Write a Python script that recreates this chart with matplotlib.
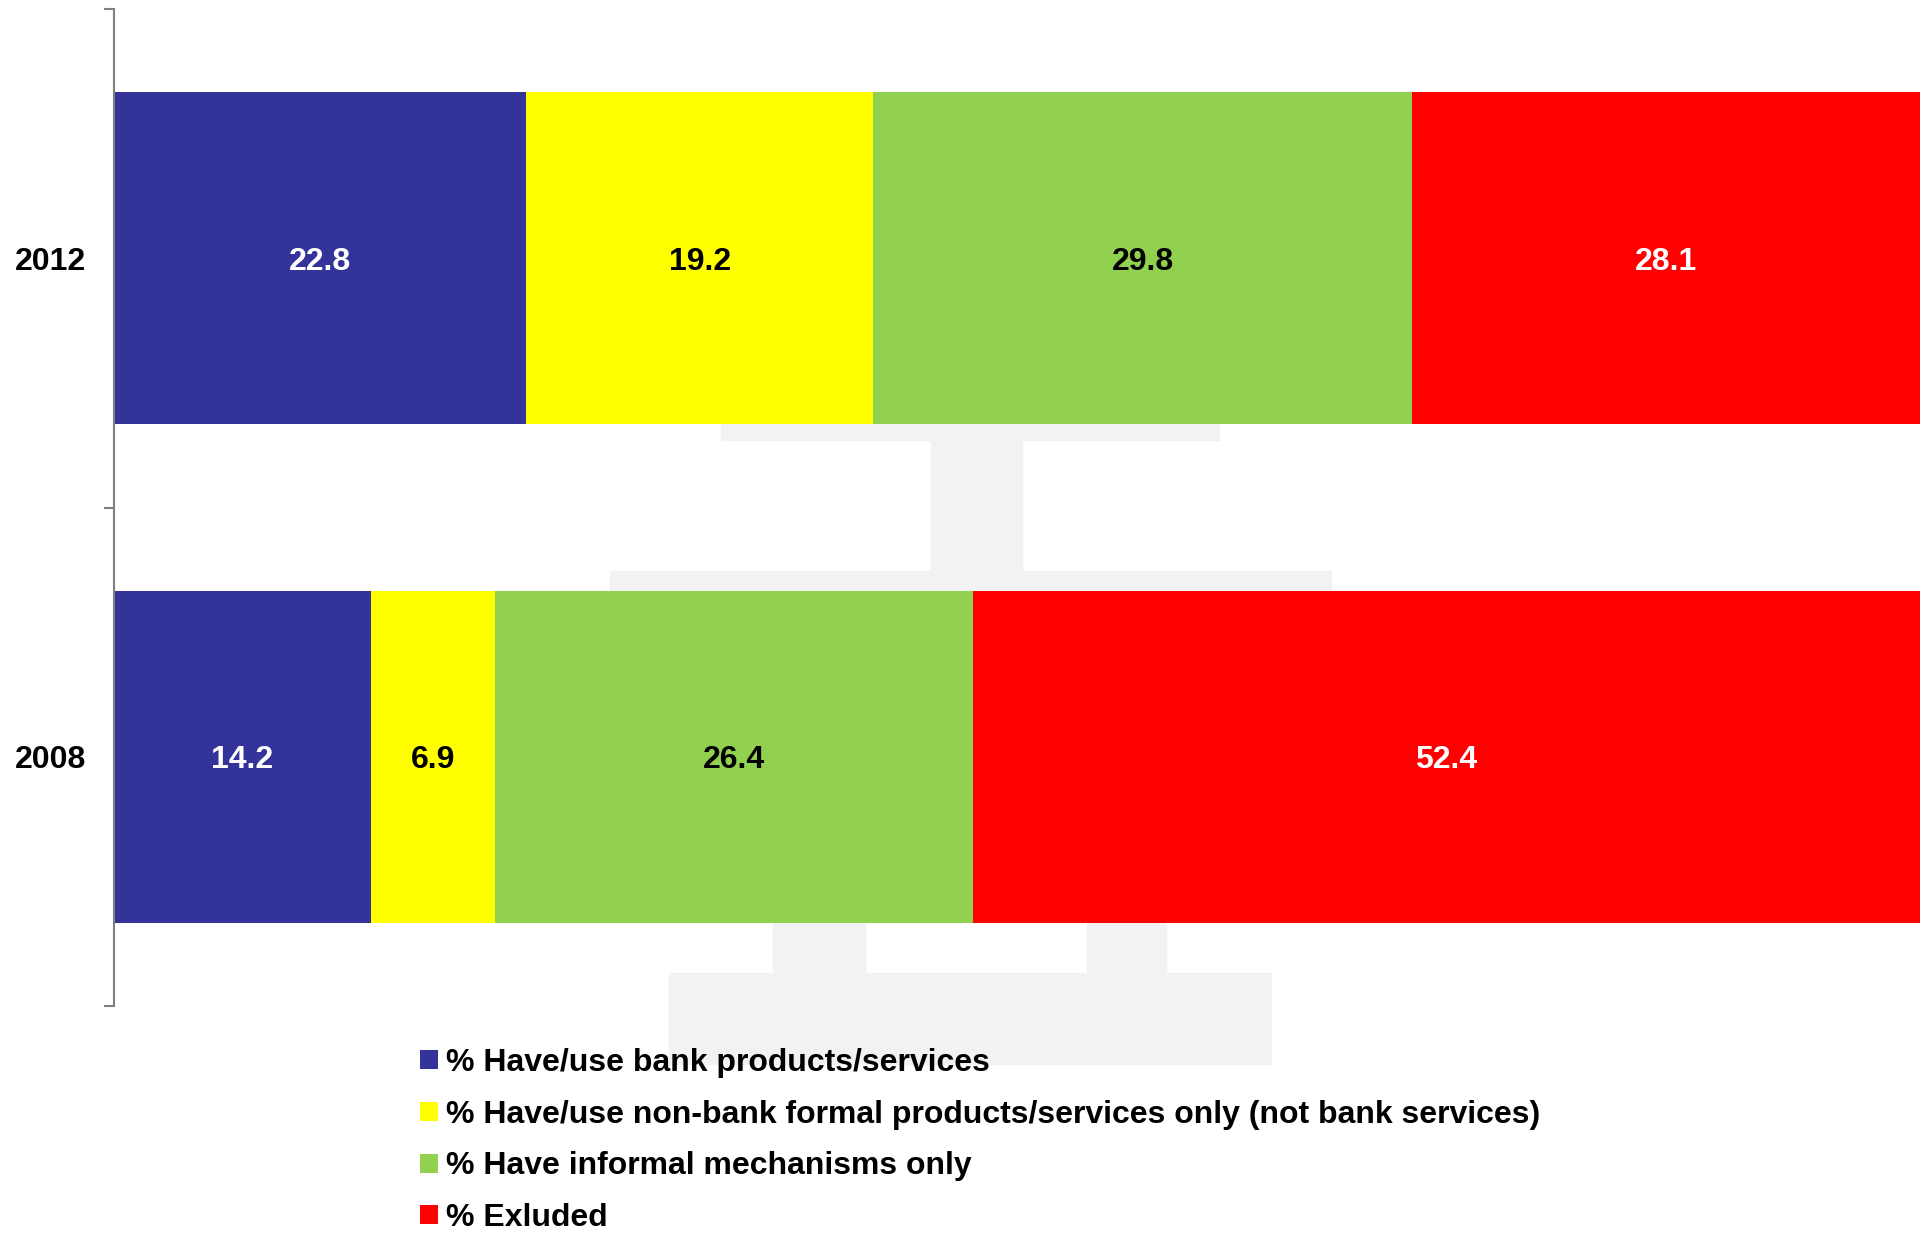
import matplotlib
matplotlib.use("Agg")
import matplotlib.pyplot as plt
from matplotlib.patches import Patch, Rectangle

plt.rcParams['font.family'] = ['Liberation Sans', 'DejaVu Sans']
plt.rcParams['font.weight'] = 'bold'

# Datos
years = ['2008', '2012']
series = ['% Have/use bank products/services',
          '% Have/use non-bank formal products/services only (not bank services)',
          '% Have informal mechanisms only',
          '% Exluded']
bank = [14.2, 22.8]
non_bank = [6.9, 19.2]
informal = [26.4, 29.8]
excluded = [52.4, 28.1]
colores = ['#333399', '#FFFF00', '#92D050', '#FF0000']
color_texto = ['white', 'black', 'black', 'white']

W, H = 1924, 1233
fig = plt.figure(figsize=(W / 100, H / 100), dpi=100)

# Logo de fondo en gris claro (coordenadas en pixeles de la figura)
def fondo(x0, y0, x1, y1):
    fig.patches.append(Rectangle((x0 / W, 1 - y1 / H), (x1 - x0) / W, (y1 - y0) / H,
                                 transform=fig.transFigure, color='#F2F2F2', zorder=-5))

fondo(721, 300, 1219, 440)
fondo(931, 439, 1022, 572)
fondo(610, 571, 1331, 700)
fondo(773, 900, 865, 974)
fondo(1087, 900, 1166, 974)
fondo(669, 973, 1271, 1064)

ax = fig.add_axes([114 / W, 1 - 1006 / H, (1922 - 114) / W, (1006 - 9) / H])
ax.set_facecolor('none')
ax.set_zorder(2)

ypos = list(range(len(years)))
izquierda = [0] * len(years)
for valores, col, tcol in zip([bank, non_bank, informal, excluded], colores, color_texto):
    ax.barh(ypos, valores, left=izquierda, height=0.665, color=col, linewidth=0)
    for y, l, v in zip(ypos, izquierda, valores):
        ax.text(l + v / 2, y, f'{v:.1f}', ha='center', va='center_baseline',
                color=tcol, fontsize=23, fontweight='bold')
    izquierda = [a + b for a, b in zip(izquierda, valores)]

ax.set_xlim(0, 100)
ax.set_ylim(-0.5, 1.5)
ax.set_yticks(ypos)
ax.set_yticklabels(years, fontsize=23, fontweight='bold')
for t in ax.get_yticklabels():
    t.set_verticalalignment('center_baseline')
ax.set_yticks([-0.5, 0.5, 1.5], minor=True)
ax.tick_params(axis='y', which='major', length=0, pad=20)
ax.tick_params(axis='y', which='minor', length=7, width=1.5, color='#808080')
ax.set_xticks([])
for lado in ['top', 'right', 'bottom']:
    ax.spines[lado].set_visible(False)
ax.spines['left'].set_color('#808080')
ax.spines['left'].set_linewidth(1.5)

handles = [Patch(facecolor=c, edgecolor='none') for c in colores]
leg = fig.legend(handles, series, loc='upper left', bbox_to_anchor=(420 / W, 1 - 1048 / H),
                 frameon=False, handlelength=0.55, handleheight=0.55,
                 handletextpad=0.25, labelspacing=0.68, borderpad=0, borderaxespad=0,
                 prop={'weight': 'bold', 'size': 23})
leg.set_zorder(3)

fig.savefig('out.png', dpi=100)
